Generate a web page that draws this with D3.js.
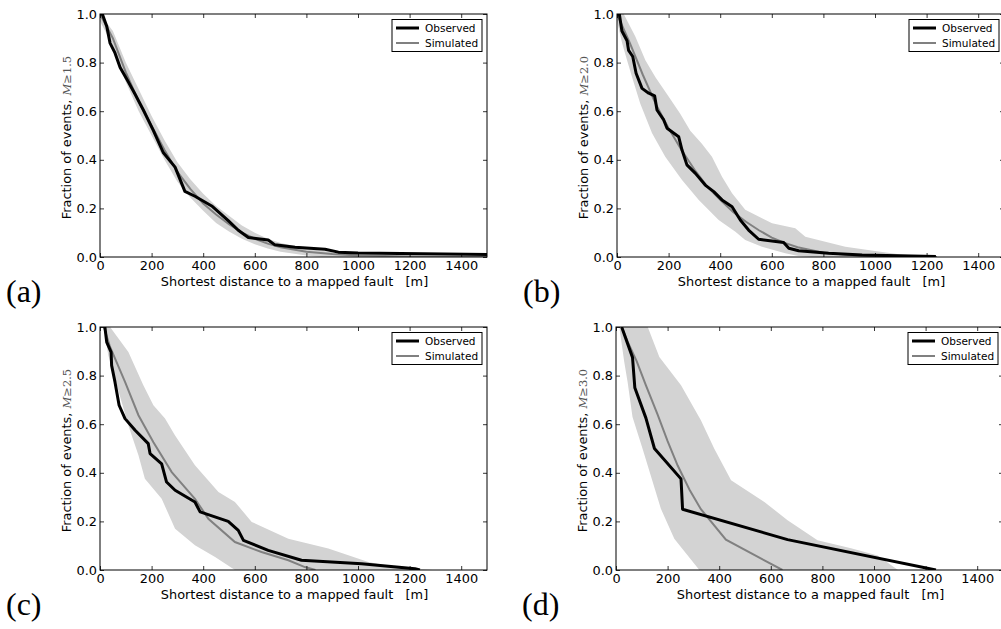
<!DOCTYPE html>
<html lang="en">
  <head>
    <meta charset="utf-8">
    <title>Fault distance</title>
    <script src="https://d3js.org/d3.v7.js"></script>
    <style>
      body { margin: 0; background: #fff; }
    </style>
  </head>
  <body>
  <script>

// ---- data: [distance m, fraction] ----
var obsA = [[0,1.0],[9,1.0],[26,0.95],[39,0.88],[58,0.84],[78,0.78],[110,0.72],[136,0.67],[168,0.605],[207,0.52],[245,0.43],[291,0.37],[329,0.27],[368,0.25],[433,0.21],[497,0.15],[536,0.11],[575,0.08],[652,0.07],[678,0.05],[756,0.04],[872,0.032],[924,0.02],[1000,0.016],[1500,0.01]];
var simA = [[0,1.0],[50,0.9],[100,0.76],[150,0.64],[200,0.54],[250,0.44],[300,0.35],[350,0.28],[400,0.22],[450,0.175],[500,0.135],[550,0.1],[600,0.075],[650,0.055],[700,0.04],[800,0.022],[900,0.012],[1000,0.006],[1200,0.002],[1500,0.0]];
var hiA = [[0,1.0],[50,0.93],[100,0.8],[150,0.69],[200,0.58],[250,0.48],[300,0.39],[350,0.32],[400,0.26],[450,0.21],[500,0.17],[550,0.13],[600,0.1],[650,0.075],[700,0.058],[800,0.035],[900,0.02],[1000,0.01],[1200,0.005],[1500,0.0]];
var loA = [[0,0.97],[50,0.87],[100,0.72],[150,0.6],[200,0.5],[250,0.4],[300,0.31],[350,0.245],[400,0.19],[450,0.14],[500,0.105],[550,0.075],[600,0.052],[650,0.035],[700,0.022],[800,0.006],[860,0.0]];

var obsB = [[0,1.0],[9,1.0],[19,0.93],[39,0.89],[45,0.85],[61,0.825],[74,0.756],[97,0.694],[123,0.674],[146,0.663],[155,0.605],[181,0.564],[194,0.53],[239,0.495],[252,0.44],[271,0.379],[304,0.344],[342,0.296],[375,0.269],[407,0.235],[446,0.207],[478,0.152],[510,0.111],[549,0.073],[646,0.06],[666,0.036],[704,0.026],[820,0.015],[950,0.008],[1236,0.002]];
var simB = [[0,1.0],[50,0.88],[100,0.75],[150,0.63],[200,0.53],[250,0.44],[300,0.36],[350,0.29],[400,0.235],[450,0.185],[500,0.145],[550,0.11],[600,0.08],[650,0.058],[700,0.04],[800,0.018],[900,0.008],[1000,0.003],[1240,0.0]];
var hiB = [[0,1.0],[26,1.0],[71,0.907],[110,0.81],[149,0.74],[200,0.66],[245,0.59],[284,0.52],[329,0.466],[368,0.413],[407,0.33],[446,0.262],[497,0.194],[601,0.139],[691,0.118],[730,0.083],[885,0.042],[1000,0.025],[1100,0.01],[1250,0.0]];
var loB = [[0,0.97],[20,0.88],[39,0.81],[58,0.742],[90,0.632],[136,0.509],[187,0.413],[252,0.317],[317,0.235],[394,0.152],[459,0.104],[497,0.07],[562,0.042],[652,0.015],[704,0.004],[756,0.0]];

var obsC = [[19,1.0],[26,0.938],[43,0.897],[45,0.842],[58,0.774],[74,0.678],[97,0.623],[136,0.575],[187,0.52],[194,0.479],[239,0.437],[258,0.362],[291,0.328],[368,0.28],[388,0.239],[497,0.2],[536,0.163],[556,0.122],[652,0.081],[781,0.04],[1014,0.026],[1221,0.005],[1240,0.0]];
var simC = [[15,1.0],[39,0.918],[97,0.774],[149,0.637],[207,0.526],[278,0.403],[368,0.293],[420,0.211],[523,0.115],[626,0.074],[730,0.04],[794,0.012],[835,0.0]];
var hiC = [[39,1.0],[110,0.897],[168,0.76],[207,0.678],[252,0.623],[291,0.554],[368,0.431],[459,0.321],[523,0.28],[588,0.198],[730,0.129],[885,0.088],[1040,0.033],[1143,0.012],[1290,0.0]];
var loC = [[15,1.0],[32,0.884],[110,0.595],[149,0.472],[174,0.376],[239,0.293],[291,0.17],[368,0.102],[446,0.053],[523,0.0]];

var obsD = [[22,1.0],[64,0.875],[73,0.75],[116,0.625],[149,0.5],[252,0.375],[258,0.25],[665,0.125],[1240,0.0]];
var simD = [[22,1.0],[45,0.94],[80,0.86],[116,0.76],[161,0.64],[200,0.53],[239,0.43],[285,0.33],[329,0.25],[426,0.125],[645,0.0]];
var hiD = [[13,1.0],[123,1.0],[168,0.877],[252,0.76],[329,0.616],[381,0.499],[446,0.369],[575,0.28],[665,0.205],[781,0.122],[911,0.089],[1014,0.06],[1093,0.0]];
var loD = [[13,1.0],[32,0.856],[45,0.774],[64,0.63],[103,0.499],[174,0.252],[226,0.129],[323,0.0]];

var xTicks = [0, 200, 400, 600, 800, 1000, 1200, 1400];
var yTicks = [0.0, 0.2, 0.4, 0.6, 0.8, 1.0];
var panelTags = ["(a)", "(b)", "(c)", "(d)"];
var magnitudes = ["1.5", "2.0", "2.5", "3.0"];

var panels = [
  {obs: obsA, sim: simA, hi: hiA, lo: loA, left: 100, top: 14},
  {obs: obsB, sim: simB, hi: hiB, lo: loB, left: 617, top: 14},
  {obs: obsC, sim: simC, hi: hiC, lo: loC, left: 100, top: 327},
  {obs: obsD, sim: simD, hi: hiD, lo: loD, left: 616, top: 327}
];

var w = 1001, h = 629;
var pw = 387, ph = 243;

var svg = d3.select("body").append("svg")
    .attr("width", w)
    .attr("height", h)
    .attr("font-family", "DejaVu Sans");

var xScale = d3.scaleLinear().domain([0, 1500]).range([0, pw]);
var yScale = d3.scaleLinear().domain([0, 1]).range([ph, 0]);

var line = d3.line()
    .x(d => xScale(d[0]))
    .y(d => yScale(d[1]));

panels.forEach(function (p, i) {
  var g = svg.append("g")
      .attr("transform", `translate(${p.left}, ${p.top})`);

  g.append("clipPath").attr("id", "clip" + i)
    .append("rect").attr("width", pw).attr("height", ph);

  var plot = g.append("g").attr("clip-path", `url(#clip${i})`);

  // envelope of simulations
  var band = p.hi.concat(p.lo.slice().reverse());
  plot.append("path")
      .attr("d", line(band) + "Z")
      .attr("fill", "#d3d3d3")
      .attr("stroke", "none");

  plot.append("path")
      .attr("d", line(p.sim))
      .attr("fill", "none")
      .attr("stroke", "#808080")
      .attr("stroke-width", 2);

  plot.append("path")
      .attr("d", line(p.obs))
      .attr("fill", "none")
      .attr("stroke", "#000")
      .attr("stroke-width", 3)
      .attr("stroke-linejoin", "round");

  // axes, ticks pointing inward
  var xb = d3.axisBottom(xScale).tickValues(xTicks).tickFormat(d3.format("d"))
      .tickSizeInner(-4).tickSizeOuter(0).tickPadding(4);
  var xt = d3.axisTop(xScale).tickValues(xTicks).tickFormat("")
      .tickSizeInner(-4).tickSizeOuter(0);
  var yl = d3.axisLeft(yScale).tickValues(yTicks).tickFormat(d3.format(".1f"))
      .tickSizeInner(-4).tickSizeOuter(0).tickPadding(3);
  var yr = d3.axisRight(yScale).tickValues(yTicks).tickFormat("")
      .tickSizeInner(-4).tickSizeOuter(0);

  var axes = [
    g.append("g").attr("transform", `translate(0, ${ph})`).call(xb),
    g.append("g").call(xt),
    g.append("g").call(yl),
    g.append("g").attr("transform", `translate(${pw}, 0)`).call(yr)
  ];
  axes.forEach(function (a) {
    a.select(".domain").remove();
    a.selectAll("line").attr("stroke", "#000").attr("stroke-width", 0.8);
    a.selectAll("text").attr("font-family", "DejaVu Sans").attr("font-size", 12.9).attr("fill", "#000");
  });

  g.append("rect")
      .attr("width", pw).attr("height", ph)
      .attr("fill", "none").attr("stroke", "#000").attr("stroke-width", 1);

  // x label
  g.append("text")
      .attr("x", pw / 2 + 1)
      .attr("y", ph + 29)
      .attr("text-anchor", "middle")
      .attr("font-size", 12.9)
      .attr("xml:space", "preserve")
      .text("Shortest distance to a mapped fault   [m]");

  // y label
  var yt = g.append("text")
      .attr("transform", `translate(-29, ${ph / 2 + 2}) rotate(-90)`)
      .attr("text-anchor", "middle")
      .attr("font-size", 12.9);
  yt.append("tspan").text("Fraction of events, ");
  yt.append("tspan").attr("font-family", "DejaVu Serif").attr("font-style", "italic")
      .attr("fill", "#555").attr("font-size", 11.5).text("M");
  yt.append("tspan").attr("font-family", "DejaVu Serif")
      .attr("fill", "#555").attr("font-size", 11.5).text("\u2265" + magnitudes[i]);

  // legend
  var lg = g.append("g").attr("transform", `translate(${pw - 95}, 5.5)`);
  lg.append("rect").attr("width", 90).attr("height", 32)
      .attr("fill", "#fff").attr("stroke", "#000").attr("stroke-width", 1);
  [["Observed", "#000", 3], ["Simulated", "#808080", 2]].forEach(function (e, k) {
    var yy = 8.5 + k * 15;
    lg.append("line").attr("x1", 4).attr("x2", 27).attr("y1", yy).attr("y2", yy)
        .attr("stroke", e[1]).attr("stroke-width", e[2]);
    lg.append("text").attr("x", 33).attr("y", yy + 4)
        .attr("font-size", 10.5).text(e[0]);
  });

  // panel tag
  svg.append("text")
      .attr("x", p.left - 94)
      .attr("y", p.top + 288)
      .attr("font-family", "Liberation Serif")
      .attr("font-size", 32)
      .text(panelTags[i]);
});

  </script>
  </body>
</html>
